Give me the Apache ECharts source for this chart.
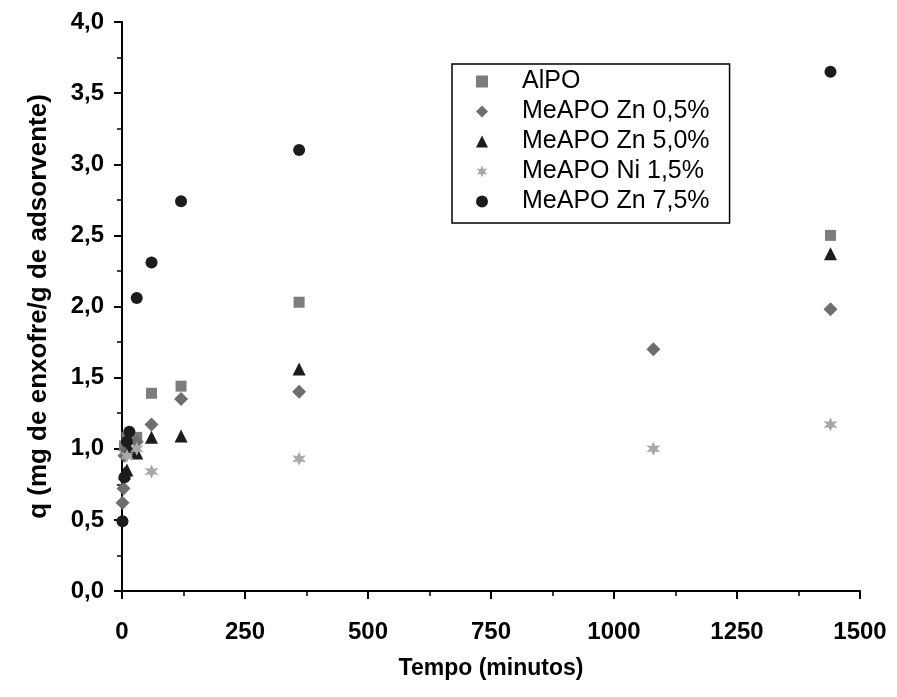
<!DOCTYPE html>
<html>
<head>
<meta charset="utf-8">
<script src="https://cdn.jsdelivr.net/npm/echarts@6/dist/echarts.min.js"></script>
<style>html,body{margin:0;padding:0;background:#fff}#c{width:897px;height:697px}</style>
</head>
<body>
<div id="c"></div>
<script>
// Data: [time (min), q]
const seriesNames = ['AlPO', 'MeAPO Zn 0,5%', 'MeAPO Zn 5,0%', 'MeAPO Ni 1,5%', 'MeAPO Zn 7,5%'];
const alpo   = [[5,1.02],[10,1.08],[15,1.10],[30,1.08],[60,1.39],[120,1.44],[360,2.03],[1440,2.50]];
const zn05   = [[1,0.62],[3,0.72],[5,0.95],[10,1.00],[30,1.05],[60,1.17],[120,1.35],[360,1.40],[1080,1.70],[1440,1.98]];
const zn50   = [[5,0.83],[10,0.85],[15,1.00],[30,0.97],[60,1.08],[120,1.09],[360,1.56],[1440,2.37]];
const ni15   = [[10,0.95],[30,1.00],[60,0.84],[360,0.93],[1080,1.00],[1440,1.17]];
const zn75   = [[1,0.49],[5,0.80],[10,1.05],[15,1.12],[30,2.06],[60,2.31],[120,2.74],[360,3.10],[1440,3.65]];
const xTicks = [0,250,500,750,1000,1250,1500];
const yTicks = [0,0.5,1,1.5,2,2.5,3,3.5,4];

const star = 'path://M0,-10L2.5,-4L8.7,-5L4.5,0L8.7,5L2.5,4L0,10L-2.5,4L-8.7,5L-4.5,0L-8.7,-5L-2.5,-4Z';
const styles = [
  {symbol:'rect', size:11, color:'#7d7d7d'},
  {symbol:'diamond', size:14, color:'#6e6e6e'},
  {symbol:'triangle', size:13, color:'#1c1c1c'},
  {symbol:star, size:14, color:'#a8a8a8'},
  {symbol:'circle', size:12, color:'#1c1c1c'}
];
const datasets = [alpo, zn05, zn50, ni15, zn75];

const fmt = v => v.toFixed(1).replace('.', ',');
const font = 'Liberation Sans, Arial, sans-serif';

const chart = echarts.init(document.getElementById('c'), null, {renderer:'canvas'});
const axisLineStyle = {color:'#000', width:2};
chart.setOption({
  animation:false,
  backgroundColor:'#fff',
  grid:{left:122, right:37, top:22, bottom:106, containLabel:false},
  legend:{
    orient:'vertical', left:452, top:64,
    borderColor:'#000', borderWidth:1.5,
    padding:[5,20,9,24],
    itemWidth:12, itemHeight:12, itemGap:5,
    textStyle:{fontFamily:font, fontSize:25, color:'#000', lineHeight:23, padding:[0,0,0,29]},
    data:seriesNames
  },
  xAxis:[{
    type:'value', min:0, max:1500, interval:250,
    name:'Tempo (minutos)', nameLocation:'middle', nameGap:66,
    nameTextStyle:{fontFamily:font, fontSize:23, fontWeight:'bold', color:'#000'},
    axisLine:{lineStyle:axisLineStyle},
    axisTick:{show:true, inside:false, length:8, lineStyle:{width:2,color:'#000'}},
    minorTick:{show:true, splitNumber:2, length:5, lineStyle:{width:1.5,color:'#000'}},
    axisLabel:{fontFamily:font, fontSize:24, fontWeight:'bold', color:'#000', margin:29, formatter:v=>String(v)},
    splitLine:{show:false}
  },{
    type:'value', min:0, max:1500, interval:250, position:'top',
    axisLine:{show:true, lineStyle:{color:'#000', width:1.5}},
    axisTick:{show:true, inside:true, length:4, lineStyle:{width:1,color:'#000'}},
    axisLabel:{show:false}, splitLine:{show:false}
  }],
  yAxis:[{
    type:'value', min:0, max:4, interval:0.5,
    name:'q (mg de enxofre/g de adsorvente)', nameLocation:'middle', nameGap:70,
    nameTextStyle:{fontFamily:font, fontSize:26, fontWeight:'bold', color:'#000'},
    axisLine:{show:true, lineStyle:axisLineStyle},
    axisTick:{show:true, inside:false, length:8, lineStyle:{width:2,color:'#000'}},
    minorTick:{show:true, splitNumber:2, length:5, lineStyle:{width:1.5,color:'#000'}},
    axisLabel:{fontFamily:font, fontSize:24, fontWeight:'bold', color:'#000', margin:18, formatter:fmt},
    splitLine:{show:false}
  },{
    type:'value', min:0, max:4, interval:0.5, position:'right',
    axisLine:{show:true, lineStyle:{color:'#000', width:1.5}},
    axisTick:{show:true, inside:true, length:4, lineStyle:{width:1,color:'#000'}},
    axisLabel:{show:false}, splitLine:{show:false}
  }],
  series: datasets.map((d,i)=>({
    name:seriesNames[i], type:'scatter', data:d,
    symbol:styles[i].symbol, symbolSize:styles[i].size,
    itemStyle:{color:styles[i].color, opacity:1},
    xAxisIndex:0, yAxisIndex:0
  }))
});
</script>
</body>
</html>
